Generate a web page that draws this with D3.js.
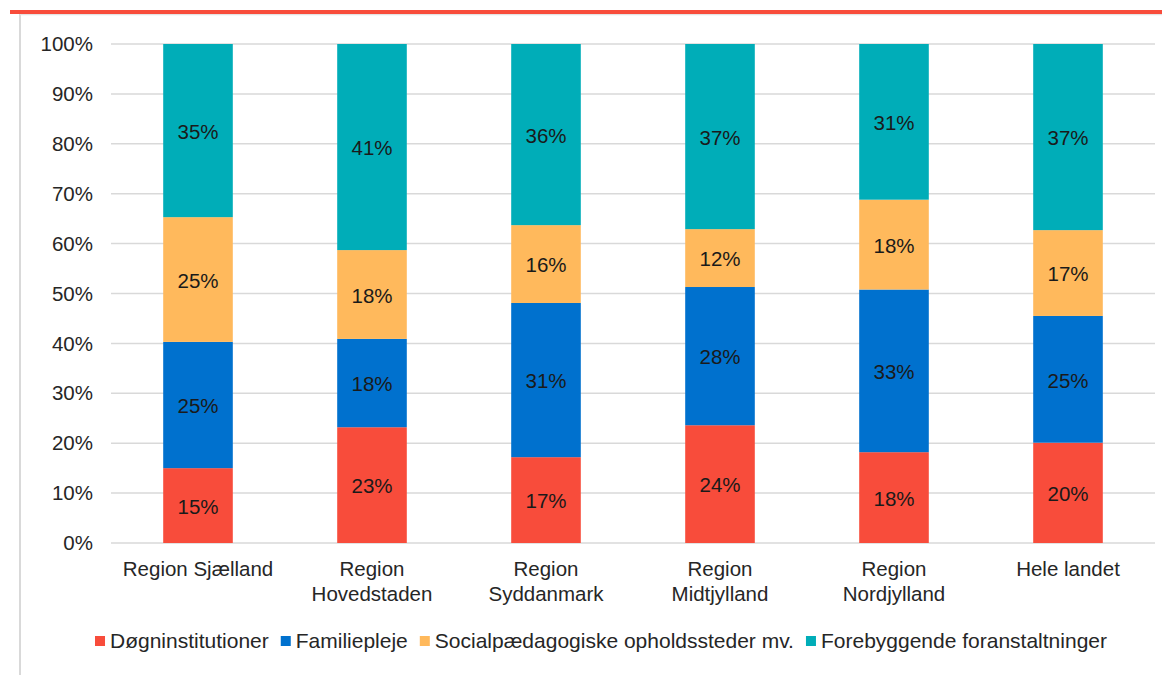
<!DOCTYPE html>
<html>
<head>
<meta charset="utf-8">
<script src="https://cdn.jsdelivr.net/npm/d3@7"></script>
<style>
  body { margin: 0; background: #fff; }
  text { font-family: "Liberation Sans", Arial, sans-serif; fill: #262626; }
</style>
</head>
<body>
<div id="container"></div>
<script>
const regions = [["Region Sjælland"], ["Region", "Hovedstaden"], ["Region", "Syddanmark"], ["Region", "Midtjylland"], ["Region", "Nordjylland"], ["Hele landet"]];
const seriesNames = ["Døgninstitutioner", "Familiepleje", "Socialpædagogiske opholdssteder mv.", "Forebyggende foranstaltninger"];
const dogn = [15.0, 23.2, 17.2, 23.6, 18.2, 20.1];
const famil = [25.3, 17.7, 30.9, 27.7, 32.6, 25.4];
const social = [25.0, 17.8, 15.6, 11.6, 18.0, 17.2];
const forebyg = [34.7, 41.3, 36.3, 37.1, 31.2, 37.3];
const yTicks = [0, 10, 20, 30, 40, 50, 60, 70, 80, 90, 100];
const colors = ["#F84C3B", "#0071CE", "#FFB95C", "#00ADB8"];

const width = 1162, height = 675;
const plotLeft = 111, plotRight = 1155, plotTop = 44, plotBottom = 543;
const fs = 20.5;

const svg = d3.select("#container").append("svg").attr("width", width).attr("height", height);

// frame
svg.append("line").attr("x1", 20).attr("x2", 20).attr("y1", 14).attr("y2", height)
  .attr("stroke", "#d9d9d9").attr("stroke-width", 2);
svg.append("line").attr("x1", 20).attr("x2", width).attr("y1", 14.5).attr("y2", 14.5)
  .attr("stroke", "#e3e3e3").attr("stroke-width", 1.5);
svg.append("line").attr("x1", 10).attr("x2", width).attr("y1", 12).attr("y2", 12)
  .attr("stroke", "#F84C3B").attr("stroke-width", 4);

const x = d3.scaleBand().domain(regions.map((d, i) => i)).range([plotLeft, plotRight]).paddingInner(0.6).paddingOuter(0.3);
const y = d3.scaleLinear().domain([0, 100]).range([plotBottom, plotTop]);

// gridlines
svg.append("g").selectAll("line").data(yTicks).enter().append("line")
  .attr("x1", plotLeft).attr("x2", plotRight)
  .attr("y1", d => y(d)).attr("y2", d => y(d))
  .attr("stroke", "#d9d9d9").attr("stroke-width", 1.5);

svg.append("g").selectAll("text").data(yTicks).enter().append("text")
  .attr("x", 93).attr("y", d => y(d)).attr("dy", "0.35em")
  .attr("text-anchor", "end").attr("font-size", fs)
  .text(d => d + "%");

const rows = regions.map((r, i) => ({ i, d: dogn[i], f: famil[i], s: social[i], o: forebyg[i] }));
const stack = d3.stack().keys(["d", "f", "s", "o"])(rows);

const layers = svg.append("g").selectAll("g").data(stack).enter().append("g")
  .attr("fill", (d, k) => colors[k]);

layers.selectAll("rect").data(d => d).enter().append("rect")
  .attr("x", d => x(d.data.i))
  .attr("width", x.bandwidth())
  .attr("y", d => y(d[1]))
  .attr("height", d => y(d[0]) - y(d[1]));

layers.selectAll("text").data(d => d).enter().append("text")
  .attr("x", d => x(d.data.i) + x.bandwidth() / 2)
  .attr("y", d => (y(d[0]) + y(d[1])) / 2 + 1)
  .attr("dy", "0.35em").attr("text-anchor", "middle").attr("font-size", fs)
  .style("fill", "#1a1a1a")
  .text(d => Math.round(d[1] - d[0]) + "%");

// category labels
const cat = svg.append("g").selectAll("text").data(regions).enter().append("text")
  .attr("x", (d, i) => x(i) + x.bandwidth() / 2)
  .attr("y", 576).attr("text-anchor", "middle").attr("font-size", fs);
cat.selectAll("tspan").data(d => d).enter().append("tspan")
  .attr("x", function () { return this.parentNode.getAttribute("x"); })
  .attr("dy", (d, j) => j === 0 ? 0 : 25)
  .text(d => d);

// legend
const legend = svg.append("g");
let lx = 0;
seriesNames.forEach((name, k) => {
  const g = legend.append("g").attr("transform", `translate(${lx},0)`);
  g.append("rect").attr("x", 0).attr("y", -5).attr("width", 10).attr("height", 10).attr("fill", colors[k]);
  const t = g.append("text").attr("x", 15).attr("y", 0).attr("dy", "0.35em").attr("font-size", fs + 0.5).text(name);
  lx += 15 + t.node().getComputedTextLength() + 12;
});
const lw = lx - 12;
legend.attr("transform", `translate(${(92 + 1110) / 2 - lw / 2},641)`);
</script>
</body>
</html>
